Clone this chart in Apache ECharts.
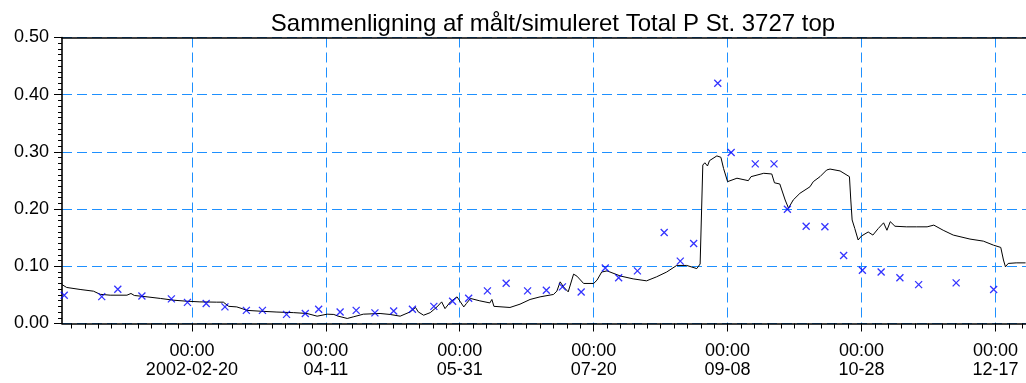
<!DOCTYPE html>
<html>
<head>
<meta charset="utf-8">
<script src="https://cdn.jsdelivr.net/npm/echarts@6/dist/echarts.min.js"></script>
<style>
html,body{margin:0;padding:0;background:#fff;}
#chart{width:1026px;height:383px;}
</style>
</head>
<body>
<div id="chart"></div>
<script>
const titleText = 'Sammenligning af målt/simuleret Total P St. 3727 top';
const axisStart = '2002-01-02 12:00';
const axisEnd = '2002-12-28 10:00';
const tickDates = ['2002-02-20','2002-04-11','2002-05-31','2002-07-20','2002-09-08','2002-10-28','2002-12-17'];
const yTicks = [0, 0.1, 0.2, 0.3, 0.4, 0.5];

// Simulated Total P (black line)
const simDates = [
 '2002-01-02 12:00','2002-01-04 06:00','2002-01-09 06:00','2002-01-14 06:00','2002-01-16 18:00','2002-01-20 12:00',
 '2002-01-26 18:00','2002-01-28 06:00','2002-01-29 12:00','2002-02-03 06:00','2002-02-08 06:00','2002-02-13 00:00',
 '2002-02-18 00:00','2002-02-23 00:00','2002-03-01 06:00','2002-03-03 18:00','2002-03-05 18:00','2002-03-08 18:00',
 '2002-03-10 18:00','2002-03-12 12:00','2002-03-17 12:00','2002-03-23 18:00','2002-03-30 00:00','2002-04-04 00:00',
 '2002-04-07 18:00','2002-04-11 12:00','2002-04-14 00:00','2002-04-15 12:00','2002-04-19 00:00','2002-04-21 06:00',
 '2002-04-25 00:00','2002-05-01 06:00','2002-05-05 00:00','2002-05-08 18:00','2002-05-12 12:00','2002-05-14 12:00',
 '2002-05-15 12:00','2002-05-17 12:00','2002-05-20 00:00','2002-05-22 12:00','2002-05-24 06:00','2002-05-25 12:00',
 '2002-05-27 12:00','2002-05-30 00:00','2002-05-31 06:00','2002-06-01 12:00','2002-06-02 12:00','2002-06-04 00:00',
 '2002-06-07 12:00','2002-06-11 06:00','2002-06-12 00:00','2002-06-12 18:00','2002-06-18 18:00','2002-06-22 12:00',
 '2002-06-26 06:00','2002-06-30 00:00','2002-07-05 00:00','2002-07-06 06:00','2002-07-07 12:00','2002-07-08 18:00',
 '2002-07-10 12:00','2002-07-12 12:00','2002-07-13 18:00','2002-07-16 06:00','2002-07-20 00:00','2002-07-21 06:00',
 '2002-07-23 00:00','2002-07-25 00:00','2002-07-30 00:00','2002-08-03 18:00','2002-08-08 18:00','2002-08-12 12:00',
 '2002-08-16 06:00','2002-08-20 00:00','2002-08-23 18:00','2002-08-27 12:00','2002-08-28 18:00','2002-08-29 18:00',
 '2002-08-30 12:00','2002-08-31 12:00','2002-09-01 06:00','2002-09-04 00:00','2002-09-05 12:00','2002-09-06 12:00',
 '2002-09-08 00:00','2002-09-11 12:00','2002-09-15 18:00','2002-09-16 18:00','2002-09-21 12:00','2002-09-24 12:00',
 '2002-09-25 12:00','2002-09-27 12:00','2002-09-29 12:00','2002-09-30 18:00','2002-10-02 12:00','2002-10-05 00:00',
 '2002-10-08 18:00','2002-10-10 00:00','2002-10-12 12:00','2002-10-15 00:00','2002-10-16 06:00','2002-10-20 00:00',
 '2002-10-23 12:00','2002-10-24 00:00','2002-10-24 12:00','2002-10-25 12:00','2002-10-26 18:00','2002-10-28 00:00',
 '2002-10-30 12:00','2002-11-01 06:00','2002-11-03 06:00','2002-11-05 06:00','2002-11-06 12:00','2002-11-07 18:00',
 '2002-11-09 12:00','2002-11-13 18:00','2002-11-17 12:00','2002-11-21 12:00','2002-11-24 00:00','2002-11-27 12:00',
 '2002-12-01 06:00','2002-12-07 12:00','2002-12-12 12:00','2002-12-16 06:00','2002-12-19 00:00','2002-12-20 00:00',
 '2002-12-20 18:00','2002-12-21 18:00','2002-12-24 18:00','2002-12-28 06:00'
];
const simValues = [
 0.068,0.063,0.0595,0.0565,0.051,0.0495,
 0.0495,0.0525,0.049,0.0466,0.0438,0.0408,
 0.039,0.0378,0.0373,0.0373,0.030,0.029,
 0.026,0.023,0.0215,0.020,0.019,0.0175,
 0.0128,0.0163,0.0158,0.013,0.0088,0.0116,
 0.0163,0.0175,0.0158,0.0128,0.0203,0.028,
 0.0203,0.0145,0.019,0.029,0.0378,0.026,
 0.0378,0.0466,0.0378,0.029,0.035,0.0438,
 0.0396,0.036,0.042,0.030,0.028,0.0338,
 0.042,0.0466,0.0508,0.0565,0.0728,0.064,
 0.0553,0.0863,0.0828,0.070,0.070,0.0758,
 0.090,0.092,0.083,0.078,0.0746,0.0816,
 0.090,0.1015,0.1015,0.096,0.104,0.277,
 0.281,0.2754,0.2847,0.293,0.2906,0.271,
 0.248,0.254,0.2497,0.2567,0.2626,0.2614,
 0.246,0.2439,0.2159,0.2017,0.2159,0.2276,
 0.239,0.248,0.2567,0.2684,0.270,0.2667,
 0.2567,0.216,0.181,0.166,0.146,0.153,
 0.160,0.1546,0.166,0.176,0.163,0.178,
 0.170,0.169,0.169,0.169,0.172,0.163,
 0.1546,0.1476,0.144,0.137,0.133,0.111,
 0.099,0.105,0.106,0.106
];

// Measured Total P (blue crosses)
const obsDates = [
 '2002-01-03 08:00','2002-01-17 08:00','2002-01-23 08:00','2002-02-01 08:00','2002-02-12 08:00','2002-02-18 08:00',
 '2002-02-25 08:00','2002-03-04 08:00','2002-03-12 08:00','2002-03-18 08:00','2002-03-27 08:00','2002-04-03 08:00',
 '2002-04-08 08:00','2002-04-16 08:00','2002-04-22 08:00','2002-04-29 08:00','2002-05-06 08:00','2002-05-13 08:00',
 '2002-05-21 08:00','2002-05-28 08:00','2002-06-03 08:00','2002-06-10 08:00','2002-06-17 08:00','2002-06-25 08:00',
 '2002-07-02 08:00','2002-07-08 08:00','2002-07-15 08:00','2002-07-24 08:00','2002-07-29 08:00','2002-08-05 08:00',
 '2002-08-15 08:00','2002-08-21 08:00','2002-08-26 08:00','2002-09-04 08:00','2002-09-09 08:00','2002-09-18 08:00',
 '2002-09-25 08:00','2002-09-30 08:00','2002-10-07 08:00','2002-10-14 08:00','2002-10-21 08:00','2002-10-28 08:00',
 '2002-11-04 08:00','2002-11-11 08:00','2002-11-18 08:00','2002-12-02 08:00','2002-12-16 08:00'
];
const obsValues = [
 0.0495,0.047,0.060,0.048,0.043,0.037,
 0.035,0.029,0.023,0.023,0.016,0.0175,
 0.025,0.020,0.023,0.0186,0.022,0.025,
 0.030,0.039,0.044,0.057,0.0705,0.057,
 0.058,0.064,0.055,0.097,0.080,0.092,
 0.159,0.109,0.140,0.420,0.299,0.279,
 0.279,0.1996,0.170,0.169,0.119,0.093,
 0.090,0.080,0.068,0.071,0.0595
];

function toDay(s){
  const parts = s.split(' ');
  const d = parts[0].split('-').map(Number);
  const h = parts[1] ? parseInt(parts[1].split(':')[0],10) : 0;
  return (Date.UTC(d[0], d[1]-1, d[2], h) - Date.UTC(d[0], 0, 1)) / 864e5;
}
const xMin = toDay(axisStart), xMax = toDay(axisEnd);
const majorVals = tickDates.map(toDay);
const minorVals = [];
for (let v = 5; v < xMax; v += 5) if (v > xMin) minorVals.push(v);
const labelMap = {};
tickDates.forEach((s,i)=>{ labelMap[majorVals[i]] = '00:00\n' + (i===0 ? s : s.slice(5)); });

const FONT = '"Liberation Sans", Arial, Helvetica, sans-serif';
const GRID_COLOR = '#1e90ff';

const chart = echarts.init(document.getElementById('chart'), null, {renderer:'canvas'});
chart.setOption({
  animation:false,
  backgroundColor:'#fff',
  textStyle:{fontFamily:FONT},
  title:{
    text:titleText, left:548, top:7, textAlign:'center',
    textStyle:{fontFamily:FONT, fontSize:24, fontWeight:'normal', color:'#000'}
  },
  grid:{left:62, right:0, top:37.5, bottom:59.5, containLabel:false},
  xAxis:[
    {
      type:'value', min:xMin, max:xMax, position:'bottom',
      axisLine:{show:true, lineStyle:{color:'#000', width:1.6}},
      axisTick:{show:true, inside:false, length:8, customValues:majorVals, lineStyle:{color:'#000', width:1}},
      axisLabel:{show:true, customValues:majorVals, margin:18, fontSize:18, lineHeight:19, color:'#000', fontFamily:FONT,
        formatter:function(v){ return labelMap[v] || ''; }},
      splitLine:{show:true, lineStyle:{color:GRID_COLOR, type:[10,5], width:1}}
    },
    {
      type:'value', min:xMin, max:xMax, position:'bottom', offset:0,
      axisLine:{show:false},
      axisTick:{show:true, inside:false, length:5, customValues:minorVals, lineStyle:{color:'#000', width:1}},
      axisLabel:{show:false},
      splitLine:{show:false}
    },
    {
      type:'value', min:xMin, max:xMax, position:'top',
      axisLine:{show:true, lineStyle:{color:'#000', width:1.6}},
      axisTick:{show:false}, axisLabel:{show:false}, splitLine:{show:false}
    }
  ],
  yAxis:{
    type:'value', min:yTicks[0], max:yTicks[yTicks.length-1], interval:0.1,
    axisLine:{show:true, lineStyle:{color:'#000', width:1.6}},
    axisTick:{show:true, inside:false, length:8, lineStyle:{color:'#000'}},
    minorTick:{show:true, splitNumber:10, length:4, lineStyle:{color:'#000'}},
    axisLabel:{fontSize:18, color:'#000', margin:13, fontFamily:FONT, formatter:function(v){return v.toFixed(2);}},
    splitLine:{show:true, lineStyle:{color:GRID_COLOR, type:[10,5], width:1}}
  },
  series:[
    {
      name:'Simuleret', type:'line', xAxisIndex:0, z:3,
      data:simDates.map((d,i)=>[toDay(d), simValues[i]]),
      showSymbol:false, symbol:'none',
      lineStyle:{color:'#000', width:1}
    },
    {
      name:'Målt', type:'scatter', xAxisIndex:0, z:4,
      data:obsDates.map((d,i)=>[toDay(d), obsValues[i]]),
      symbol:'path://M0,0L10,10M10,0L0,10', symbolSize:7,
      itemStyle:{color:'#0000ff', borderColor:'#0000ff', borderWidth:1.3}
    }
  ]
});
</script>
</body>
</html>
